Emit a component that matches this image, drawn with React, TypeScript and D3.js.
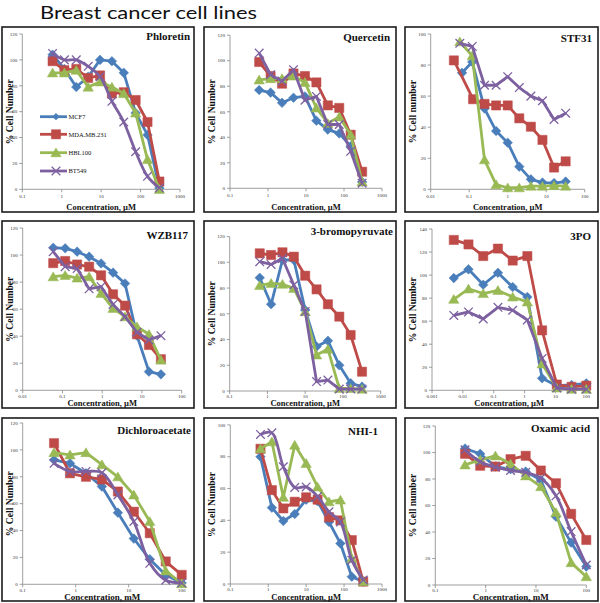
import React, { useEffect } from 'react';
import * as d3 from 'd3';

// ---------- Data ----------
const seriesNames = ['MCF7', 'MDA.MB.231', 'HBL100', 'BT549'];
const seriesColors = ['#4A7EBB', '#BE4B48', '#98B954', '#7D60A0'];

const chartTitle = 'Breast cancer cell lines';

// Phloretin (µM)
const phloretinConc = [0.586, 1.17, 2.34, 4.69, 9.375, 18.75, 37.5, 75, 150, 300];
const phloretinMCF7 = [104, 93, 79, 87, 100, 99, 90, 59, 42, 1];
const phloretinMDA = [99, 92, 93, 86, 88, 74, 75, 69, 52, 6];
const phloretinHBL = [90, 90, 92, 79, 83, 79, 74, 59, 23, 0];
const phloretinBT = [105, 100, 100, 95, 87, 68, 52, 29, 10, 1];

// Quercetin (µM)
const quercetinConc = [0.586, 1.17, 2.34, 4.69, 9.375, 18.75, 37.5, 75, 150, 300];
const quercetinMCF7 = [77, 75, 67, 71, 72, 53, 46, 43, 33, 5];
const quercetinMDA = [99, 88, 82, 90, 88, 83, 65, 63, 42, 13];
const quercetinHBL = [85, 86, 86, 88, 83, 63, 51, 56, 42, 5];
const quercetinBT = [106, 89, 84, 93, 69, 72, 50, 50, 29, 4];

// STF31 (µM) – first concentrations differ slightly per series
const stf31ConcMCF7 = [0.065, 0.12, 0.25, 0.5, 1, 2, 4, 8, 16, 32];
const stf31ConcMDA = [0.04, 0.126, 0.25, 0.5, 1, 2, 4, 8, 16, 32];
const stf31ConcHBL = [0.057, 0.12, 0.25, 0.5, 1, 2, 4, 8, 16, 32];
const stf31ConcBT = [0.057, 0.12, 0.25, 0.5, 1, 2, 4, 8, 16, 32];
const stf31MCF7 = [75, 82, 52, 37.5, 30, 14.6, 6.4, 4.3, 4, 5];
const stf31MDA = [83, 58, 55, 54, 54, 45.7, 40.3, 31.8, 14, 18];
const stf31HBL = [95, 86, 19, 3, 1, 1, 2, 2, 2.4, 2];
const stf31BT = [94, 92, 67, 67, 72.5, 65.5, 60, 57, 45, 49];

// WZB117 (µM)
const wzbConc = [0.0586, 0.117, 0.234, 0.469, 0.9375, 1.875, 3.75, 7.5, 15, 30];
const wzbMCF7 = [105.4, 105, 102.5, 98.8, 93.8, 87, 79, 40.4, 13.8, 11.8];
const wzbMDA = [94, 95.6, 93, 91.4, 85, 71, 62.6, 41.4, 33.5, 23];
const wzbHBL = [84, 85, 83, 84, 71.7, 60.6, 54.4, 47, 41.4, 22.4];
const wzbBT = [102.5, 91.4, 90, 75, 76.6, 63.5, 54.4, 42.9, 37.2, 40.4];

// 3-bromopyruvate (µM)
const bpConc = [0.625, 1.25, 2.5, 5, 10, 20, 40, 80, 160, 320];
const bpMCF7 = [88, 67.4, 101.8, 101.8, 63, 34.5, 39, 20, 6, 3.4];
const bpMDA = [107, 105.7, 107.8, 104.4, 89.6, 79, 67.4, 57.8, 43.5, 15];
const bpHBL = [82, 83.7, 83, 79.8, 61.7, 28, 32.6, 2, 2, 1.5];
const bpBT = [100.5, 98.4, 103, 82.4, 61.7, 7.3, 8.5, 1.5, 1.5, 1.5];

// 3PO (µM)
const poConc = [0.00508, 0.0152, 0.0457, 0.137, 0.412, 1.23, 3.7, 11.1, 33.3, 100];
const poMCF7 = [97.4, 105, 91.6, 102, 89.6, 81, 10.4, 4, 4.6, 6];
const poMDA = [130.5, 126.6, 116.5, 123, 112.6, 116.5, 52, 5, 3, 4];
const poHBL = [79, 88, 84, 86.7, 81, 76.7, 23, 2, 1, 1];
const poBT = [65, 68, 62, 72, 69.5, 61, 27.7, 2, 1, 1];

// Dichloroacetate (mM)
const dcaConc = [0.39, 0.78, 1.5625, 3.125, 6.25, 12.5, 25, 50, 100];
const dcaMCF7 = [92.5, 90, 82.6, 72.7, 53.3, 34, 18.6, 7, 1];
const dcaMDA = [105, 82.6, 80, 78, 69, 54, 38, 17, 7];
const dcaHBL = [98, 96.3, 98, 89, 80, 66.5, 46.7, 10, 0.5];
const dcaBT = [90, 84, 84, 83, 66.5, 46.7, 15.6, 3, 1];

// NHI-1 (µM)
const nhiConc = [0.625, 1.25, 2.5, 5, 10, 20, 40, 80, 160, 320];
const nhiMCF7 = [80, 48, 39.6, 44, 53, 52, 39, 25.5, 4.6, 1.5];
const nhiMDA = [85, 59, 47.5, 51.7, 54.5, 53, 42, 40, 27.6, 1.5];
const nhiHBL = [85, 89.4, 54.5, 87.3, 75.8, 61, 51.7, 52.8, 16, 1.5];
const nhiBT = [94, 95, 73.7, 60.7, 61, 55, 45.4, 39, 15, 2.5];

// Oxamic acid (mM)
const oxaConc = [0.39, 0.78, 1.5625, 3.125, 6.25, 12.5, 25, 50, 100];
const oxaMCF7 = [103, 99, 89.4, 87.4, 85.6, 79.3, 51.6, 32, 13.9];
const oxaMDA = [99, 90, 89.4, 95, 97.5, 86.4, 76.8, 53.7, 34];
const oxaHBL = [90.7, 94.5, 97.5, 91.4, 82.4, 74.3, 54.7, 16.9, 6.3];
const oxaBT = [102, 93, 89, 86.4, 85, 80.6, 67.3, 40.3, 15.1];

// ---------- Layout ----------
type Panel = {
  name: string;
  conc: number[][];
  values: number[][];
  xMin: number;
  xMax: number;
  yMax: number;
  unit: string;
  yTitle: string;
  box: [number, number, number, number];
  plot: [number, number, number, number];
  titlePos: [number, number];
  xTitleGap: number;
  tickGap: number;
  smoothBT: boolean;
  legend?: boolean;
};

const same = (c: number[]) => [c, c, c, c];

const panels: Panel[] = [
  {
    name: 'Phloretin', conc: same(phloretinConc),
    values: [phloretinMCF7, phloretinMDA, phloretinHBL, phloretinBT],
    xMin: 0.1, xMax: 1000, yMax: 120, unit: 'µM', yTitle: '% Cell Number',
    box: [2, 27, 194, 212], plot: [22.3, 34, 180, 189.3], titlePos: [190, 40], xTitleGap: 20.5, tickGap: 8.5,
    smoothBT: true, legend: true,
  },
  {
    name: 'Quercetin', conc: same(quercetinConc),
    values: [quercetinMCF7, quercetinMDA, quercetinHBL, quercetinBT],
    xMin: 0.1, xMax: 1000, yMax: 120, unit: 'µM', yTitle: '% Cell Number',
    box: [204, 27, 396, 212], plot: [230, 35.2, 382, 188.3], titlePos: [390, 41], xTitleGap: 21.5, tickGap: 8.5,
    smoothBT: false,
  },
  {
    name: 'STF31', conc: [stf31ConcMCF7, stf31ConcMDA, stf31ConcHBL, stf31ConcBT],
    values: [stf31MCF7, stf31MDA, stf31HBL, stf31BT],
    xMin: 0.01, xMax: 100, yMax: 100, unit: 'µM', yTitle: '% Cell number',
    box: [405, 27, 598, 212], plot: [430.7, 34, 584.7, 189.3], titlePos: [592, 42], xTitleGap: 20.5, tickGap: 8.5,
    smoothBT: false,
  },
  {
    name: 'WZB117', conc: same(wzbConc),
    values: [wzbMCF7, wzbMDA, wzbHBL, wzbBT],
    xMin: 0.01, xMax: 100, yMax: 120, unit: 'µM', yTitle: '% Cell Number',
    box: [2, 221, 194, 408], plot: [22.7, 228, 181.7, 390.3], titlePos: [188, 239], xTitleGap: 15.6, tickGap: 7.3,
    smoothBT: false,
  },
  {
    name: '3-bromopyruvate', conc: same(bpConc),
    values: [bpMCF7, bpMDA, bpHBL, bpBT],
    xMin: 0.1, xMax: 1000, yMax: 120, unit: 'µM', yTitle: '% Cell Number',
    box: [204, 221, 396, 408], plot: [229.7, 236.6, 380.7, 391], titlePos: [393, 235], xTitleGap: 15, tickGap: 7.3,
    smoothBT: false,
  },
  {
    name: '3PO', conc: same(poConc),
    values: [poMCF7, poMDA, poHBL, poBT],
    xMin: 0.001, xMax: 100, yMax: 140, unit: 'µM', yTitle: '% Cell Number',
    box: [405, 221, 598, 408], plot: [432, 229, 586.3, 390.3], titlePos: [591, 240], xTitleGap: 15.6, tickGap: 7.3,
    smoothBT: false,
  },
  {
    name: 'Dichloroacetate', conc: same(dcaConc),
    values: [dcaMCF7, dcaMDA, dcaHBL, dcaBT],
    xMin: 0.1, xMax: 100, yMax: 120, unit: 'mM', yTitle: '% Cell Number',
    box: [2, 418, 194, 601], plot: [22.7, 423, 181.7, 584.3], titlePos: [191, 434], xTitleGap: 15.4, tickGap: 7.3,
    smoothBT: true,
  },
  {
    name: 'NHI-1', conc: same(nhiConc),
    values: [nhiMCF7, nhiMDA, nhiHBL, nhiBT],
    xMin: 0.1, xMax: 1000, yMax: 100, unit: 'µM', yTitle: '% Cell Number',
    box: [204, 418, 396, 601], plot: [230.3, 424.9, 382, 584], titlePos: [378, 435], xTitleGap: 15.6, tickGap: 7.3,
    smoothBT: true,
  },
  {
    name: 'Oxamic acid', conc: same(oxaConc),
    values: [oxaMCF7, oxaMDA, oxaHBL, oxaBT],
    xMin: 0.1, xMax: 100, yMax: 120, unit: 'mM', yTitle: '% Cell number',
    box: [405, 418, 598, 601], plot: [435.3, 426, 586.3, 585], titlePos: [590, 432], xTitleGap: 15, tickGap: 7.3,
    smoothBT: true,
  },
];

const SERIF = "'Liberation Serif', 'Times New Roman', serif";

function markerPath(kind: number, k = 1): string {
  const p = d3.path();
  if (kind === 0) {
    const r = 4.8 * k;
    p.moveTo(0, -r); p.lineTo(r, 0); p.lineTo(0, r); p.lineTo(-r, 0); p.closePath();
  } else if (kind === 1) {
    const h = 4.6 * k;
    p.rect(-h, -h, 2 * h, 2 * h);
  } else if (kind === 2) {
    const w = 5.2 * k, h = 4.8 * k;
    p.moveTo(0, -h); p.lineTo(w, h * 0.85); p.lineTo(-w, h * 0.85); p.closePath();
  } else {
    const r = 4.3 * k;
    p.moveTo(-r, -r); p.lineTo(r, r); p.moveTo(r, -r); p.lineTo(-r, r);
  }
  return p.toString();
}

function Marker({ kind, x, y, color, k = 1 }: { kind: number; x: number; y: number; color: string; k?: number }) {
  if (kind === 3) {
    return <path d={markerPath(kind, k)} transform={`translate(${x},${y})`} stroke={color} strokeWidth={1.3} fill="none" />;
  }
  return <path d={markerPath(kind, k)} transform={`translate(${x},${y})`} fill={color} stroke={color} strokeWidth={0.5} />;
}

function PanelView({ p }: { p: Panel }) {
  const [x0, y0, x1, y1] = p.plot;
  const xs = d3.scaleLog().domain([p.xMin, p.xMax]).range([x0, x1]);
  const ys = d3.scaleLinear().domain([0, p.yMax]).range([y1, y0]);
  const kLo = Math.round(Math.log10(p.xMin));
  const kHi = Math.round(Math.log10(p.xMax));
  const decades = d3.range(kLo, kHi + 1).map((k) => +('1e' + k));
  const yTicks = d3.range(0, p.yMax + 1, 20);
  const [bx0, by0, bx1, by1] = p.box;
  const axisColor = '#868686';

  return (
    <g>
      <rect x={bx0} y={by0} width={bx1 - bx0} height={by1 - by0} fill="#fff" stroke="#1c1c1c" strokeWidth={1.6} />
      {/* y axis */}
      <line x1={x0} x2={x0} y1={y0} y2={y1} stroke={axisColor} strokeWidth={0.8} />
      {yTicks.map((t) => (
        <g key={'y' + t}>
          <line x1={x0 - 3} x2={x0} y1={ys(t)} y2={ys(t)} stroke={axisColor} strokeWidth={0.8} />
          <text x={x0 - 5} y={ys(t)} dy="0.35em" textAnchor="end" fontFamily={SERIF} fontSize={5} fill="#333">
            {t}
          </text>
        </g>
      ))}
      {/* x axis */}
      <line x1={x0} x2={x1} y1={y1} y2={y1} stroke={axisColor} strokeWidth={0.8} />
      {decades.map((d) => (
        <g key={'x' + d}>
          <line x1={xs(d)} x2={xs(d)} y1={y1} y2={y1 + 3} stroke={axisColor} strokeWidth={0.8} />
          <text x={xs(d)} y={y1 + p.tickGap} textAnchor="middle" fontFamily={SERIF} fontSize={5} fill="#333">
            {String(d)}
          </text>
        </g>
      ))}
      {/* axis titles */}
      <text
        x={(x0 + x1) / 2}
        y={y1 + p.xTitleGap}
        textAnchor="middle"
        fontFamily={SERIF}
        fontWeight="bold"
        fontSize={p.unit === 'mM' ? 9 : 8.5}
        fill="#111"
      >
        {`Concentration, ${p.unit}`}
      </text>
      <text
        transform={`translate(${bx0 + 7.5},${(y0 + y1) / 2}) rotate(-90)`}
        dy="0.35em"
        textAnchor="middle"
        fontFamily={SERIF}
        fontWeight="bold"
        fontSize={9.6}
        fill="#111"
      >
        {p.yTitle}
      </text>
      {/* panel title */}
      <text x={p.titlePos[0]} y={p.titlePos[1]} textAnchor="end" fontFamily={SERIF} fontWeight="bold" fontSize={11} fill="#111">
        {p.name}
      </text>
      {/* series */}
      {p.values.map((vals, i) => {
        const conc = p.conc[i];
        const pts: [number, number][] = vals.map((v, j) => [xs(conc[j]), ys(v)]);
        const curve = i === 3 && p.smoothBT ? d3.curveCatmullRom.alpha(0.5) : d3.curveLinear;
        const line = d3.line<[number, number]>().curve(curve)(pts) || '';
        return (
          <g key={'s' + i}>
            <path d={line} fill="none" stroke={seriesColors[i]} strokeWidth={2.8} strokeLinejoin="round" />
            {pts.map((pt, j) => (
              <Marker key={j} kind={i} x={pt[0]} y={pt[1]} color={seriesColors[i]} />
            ))}
          </g>
        );
      })}
      {/* legend */}
      {p.legend &&
        seriesNames.map((n, i) => {
          const ly = [116.7, 134.3, 152.7, 171][i];
          return (
            <g key={'l' + i}>
              <line x1={40} x2={67} y1={ly} y2={ly} stroke={seriesColors[i]} strokeWidth={2.8} />
              <Marker kind={i} x={56} y={ly} color={seriesColors[i]} k={i === 0 ? 0.7 : 1} />
              <text x={68.5} y={ly} dy="0.35em" fontFamily={SERIF} fontSize={6.5} fill="#111">
                {n}
              </text>
            </g>
          );
        })}
    </g>
  );
}

export default function App() {
  useEffect(() => {
    document.body.style.margin = '0';
  }, []);
  return (
    <svg width={600} height={603} viewBox="0 0 600 603" style={{ position: 'absolute', left: 0, top: 0, display: 'block' }}>
      <rect width={600} height={603} fill="#fff" />
      <text
        x={40}
        y={18.5}
        fontFamily="Lato, 'Open Sans', sans-serif"
        fontSize={18}
        textLength={217}
        lengthAdjust="spacingAndGlyphs"
        fill="#111"
      >
        {chartTitle}
      </text>
      {panels.map((p) => (
        <PanelView key={p.name} p={p} />
      ))}
    </svg>
  );
}
